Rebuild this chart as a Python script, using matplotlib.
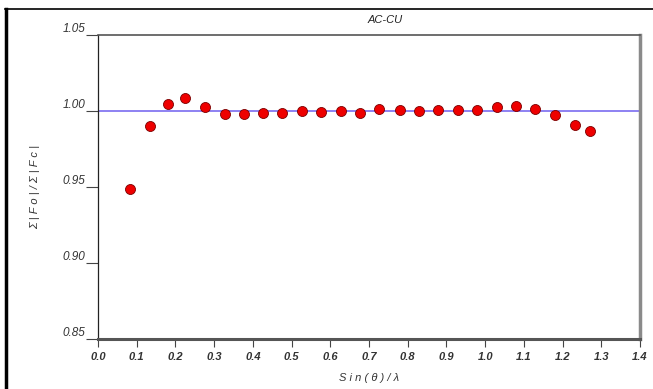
import numpy as np
import matplotlib.pyplot as plt
from matplotlib.lines import Line2D

# resolution bins and the Fo/Fc scale ratio in each
sin_theta_lambda = [0.083, 0.135, 0.181, 0.225, 0.277, 0.328, 0.377, 0.426, 0.476,
                    0.526, 0.577, 0.627, 0.677, 0.727, 0.780, 0.829, 0.879, 0.930,
                    0.979, 1.030, 1.079, 1.130, 1.180, 1.232, 1.272]
fo_fc_ratio = [0.9487, 0.9900, 1.0046, 1.0083, 1.0029, 0.9978, 0.9983, 0.9990, 0.9990,
               1.0000, 0.9996, 1.0000, 0.9990, 1.0011, 1.0009, 1.0003, 1.0009, 1.0009,
               1.0009, 1.0024, 1.0033, 1.0013, 0.9972, 0.9908, 0.9871]
x_ticks = np.arange(0.0, 1.41, 0.1)
y_ticks = [0.85, 0.90, 0.95, 1.00, 1.05]
title = 'AC-CU'

plt.rcParams['font.family'] = ['Liberation Sans', 'DejaVu Sans']

fig = plt.figure(figsize=(6.53, 3.89), dpi=100)
ax = fig.add_axes([98 / 653, 50 / 389, 542 / 653, 304 / 389])

ax.axhline(1.0, color='#7a6cf0', lw=1.2, zorder=1)
ax.plot(sin_theta_lambda, fo_fc_ratio, 'o', ms=7.2, mfc='#ee0000', mec='#7a0000',
        mew=0.6, zorder=3)

ax.set_xlim(0.0, 1.4)
ax.set_ylim(0.85, 1.05)
ax.set_xticks(x_ticks)
ax.set_xticklabels([f'{v:.1f}' for v in x_ticks], fontsize=8, fontstyle='italic',
                   fontweight='bold', color='#333333')
ax.set_yticks(y_ticks)
ax.set_yticklabels([f'{v:.2f}' for v in y_ticks], fontsize=8.5, fontstyle='italic',
                   color='#333333')
for lab in ax.get_yticklabels():
    lab.set_va('bottom')
ax.tick_params(axis='y', length=9, width=0.8, pad=0, color='#444444')
ax.tick_params(axis='x', length=6, width=0.8, pad=3, color='#444444')

ax.spines['left'].set_color('#222222')
ax.spines['left'].set_linewidth(0.9)
ax.spines['top'].set_color('#555555')
ax.spines['top'].set_linewidth(1.2)
ax.spines['right'].set_color('#8a8a8a')
ax.spines['right'].set_linewidth(2.5)
ax.spines['bottom'].set_color('#555555')
ax.spines['bottom'].set_linewidth(2.2)

ax.set_title(title, fontsize=8, fontstyle='italic', color='#222222', pad=9, x=0.53)
ax.set_xlabel('S i n ( θ ) / λ', fontsize=8, fontstyle='italic', color='#333333',
              labelpad=8)
ax.set_ylabel('Σ | F o | / Σ | F c |', fontsize=8, fontstyle='italic', color='#333333',
              labelpad=16)

# outer page frame
fig.add_artist(Line2D([6 / 653, 6 / 653], [0, 380 / 389], transform=fig.transFigure,
                      color='black', lw=2.5))
fig.add_artist(Line2D([5 / 653, 1], [380 / 389, 380 / 389], transform=fig.transFigure,
                      color='black', lw=1.2))

fig.savefig('out.png', dpi=100)
